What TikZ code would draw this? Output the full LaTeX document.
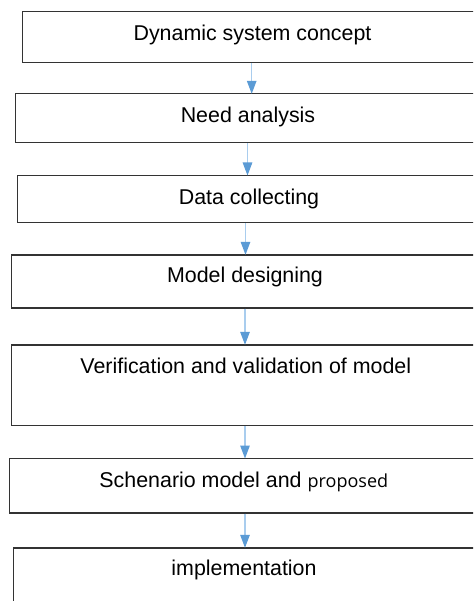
\documentclass[tikz,border=0pt]{standalone}
\usepackage{fontspec}
\setmainfont{Liberation Sans}
\newfontfamily\altfont{Open Sans}
\usetikzlibrary{arrows.meta}
\definecolor{frame}{HTML}{333333}
\definecolor{flowline}{HTML}{A9CDEE}
\definecolor{flowtip}{HTML}{5B9BD5}
\tikzset{
  stagebox/.style={draw=frame, line width=1.2pt, fill=white, inner sep=0pt, anchor=north west},
  stagetext/.style={anchor=base, inner sep=0pt, font=\fontsize{21.4}{26}\selectfont},
  flow/.style={draw=flowline, line width=1.2pt,
    -{Triangle[length=13pt, width=9.5pt, color=flowtip]}, shorten >=-0.5pt}
}
\begin{document}
\begin{tikzpicture}[x=1pt, y=-1pt]
  \useasboundingbox (0,0) rectangle (473,601);
  \clip (0,0) rectangle (473,601);
  \fill[white] (0,0) rectangle (473,601);

  % stage boxes (left edge, top edge; the right side runs off the page)
  \node[stagebox, minimum width=460pt, minimum height=51.6pt] (b1) at (21.7,10.7) {};
  \node[stagebox, minimum width=467pt, minimum height=49pt]   (b2) at (14.7,93.3) {};
  \node[stagebox, minimum width=465pt, minimum height=47pt]   (b3) at (16.7,175) {};
  \node[stagebox, minimum width=471pt, minimum height=53pt]   (b4) at (11,254.3) {};
  \node[stagebox, minimum width=471pt, minimum height=80.4pt] (b5) at (11,344.3) {};
  \node[stagebox, minimum width=473pt, minimum height=54.3pt] (b6) at (8.7,458) {};
  \node[stagebox, minimum width=469pt, minimum height=80pt]   (b7) at (13,547.3) {};

  % stage captions
  \node[stagetext] (t1) at (252.5,40.3)  {Dynamic system concept};
  \node[stagetext] (t2) at (248,122.7)   {Need analysis};
  \node[stagetext] (t3) at (249,204.3)   {Data collecting};
  \node[stagetext] (t4) at (245,282.7)   {Model designing};
  \node[stagetext] (t5) at (245.8,373.3) {Verification and validation of model};
  \node[stagetext] (t6) at (243.8,487.7) {Schenario model and {\altfont\fontsize{18}{22}\selectfont proposed}};
  \node[stagetext] (t7) at (244,575.7)   {implementation};

  % x positions of the connectors
  \coordinate (a1) at (251.7,0);
  \coordinate (a2) at (247.5,0);
  \coordinate (a3) at (245.5,0);
  \coordinate (a4) at (245,0);
  \coordinate (a5) at (245,0);
  \coordinate (a6) at (245,0);

  \draw[flow] (b1.south -| a1) -- (b2.north -| a1);
  \draw[flow] (b2.south -| a2) -- (b3.north -| a2);
  \draw[flow] (b3.south -| a3) -- (b4.north -| a3);
  \draw[flow] (b4.south -| a4) -- (b5.north -| a4);
  \draw[flow] (b5.south -| a5) -- (b6.north -| a5);
  \draw[flow] (b6.south -| a6) -- (b7.north -| a6);
\end{tikzpicture}
\end{document}
